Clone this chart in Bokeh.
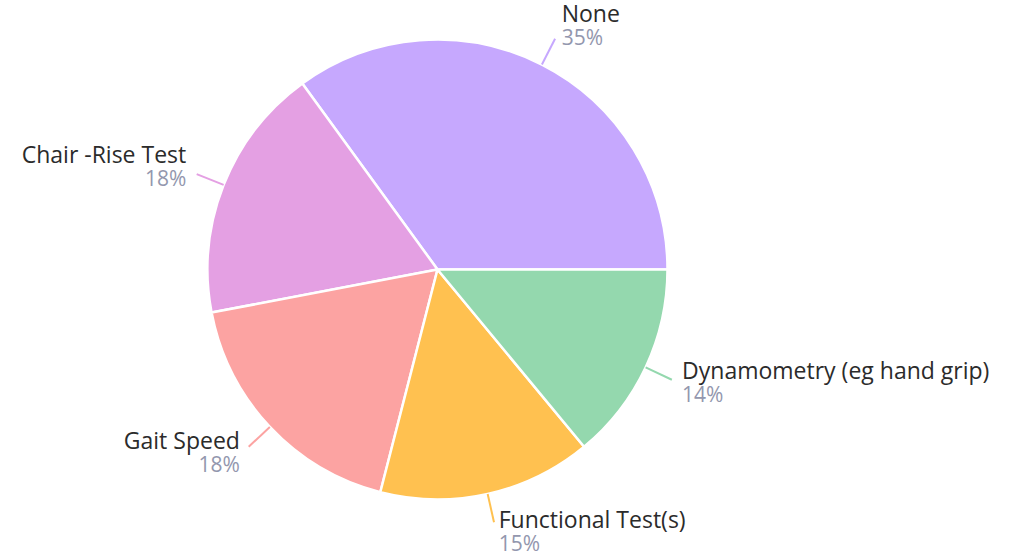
import math
from bokeh.plotting import figure
from bokeh.models import Range1d, ColumnDataSource
from bokeh.core.properties import value
from bokeh.embed import file_html
from bokeh.resources import INLINE

# ---- data ----
categories = ["None", "Chair -Rise Test", "Gait Speed", "Functional Test(s)", "Dynamometry (eg hand grip)"]
percents = [35, 18, 18, 15, 14]
colors = ["#C6A8FE", "#E4A0E3", "#FCA3A2", "#FFC150", "#94D8AE"]

W, H = 995, 554
PH = 554  # page height used for flipping
p = figure(width=W, height=H, output_backend="svg", toolbar_location=None,
           x_range=Range1d(0, W), y_range=Range1d(PH - H, PH),
           min_border=0)
p.axis.visible = False
p.grid.visible = False
p.outline_line_color = None
p.background_fill_color = "white"

def Y(py):
    return PH - py

cx, cy, r = 437, 269, 230
total = sum(percents)
starts, ends = [], []
acc = 0.0
for v in percents:
    starts.append(2 * math.pi * acc / total)
    acc += v
    ends.append(2 * math.pi * acc / total)

src = ColumnDataSource(dict(start=starts, end=ends, color=colors))
p.wedge(x=cx, y=Y(cy), radius=r, radius_units="data", start_angle="start", end_angle="end",
        direction="anticlock", fill_color="color", line_color="white", line_width=2.5, source=src)

FONT = value("Open Sans")
for name, v, col, s, e in zip(categories, percents, colors, starts, ends):
    m = (s + e) / 2
    c, sd = math.cos(m), -math.sin(m)  # screen direction (y down)
    x0, y0 = cx + r * c, cy + r * sd
    x1, y1 = cx + (r + 29) * c, cy + (r + 29) * sd
    p.line([x0, x1], [Y(y0), Y(y1)], line_color=col, line_width=2)
    bc = y1 + 12 * sd - 11
    off = 3 + 8 * abs(c)
    if c >= 0:
        tx, align = x1 + off, "left"
    else:
        tx, align = x1 - off, "right"
    p.text(x=[tx], y=[Y(bc - 12.25 + 8)], text=[name], text_font=FONT, text_font_size="23px",
           text_color="#2b2b2b", text_align=align, text_baseline="alphabetic")
    p.text(x=[tx], y=[Y(bc + 12.25 + 7.5)], text=[f"{v}%"], text_font=FONT, text_font_size="21px",
           text_color="#9397AE", text_align=align, text_baseline="alphabetic")

open("out.html", "w").write(file_html(p, INLINE))
